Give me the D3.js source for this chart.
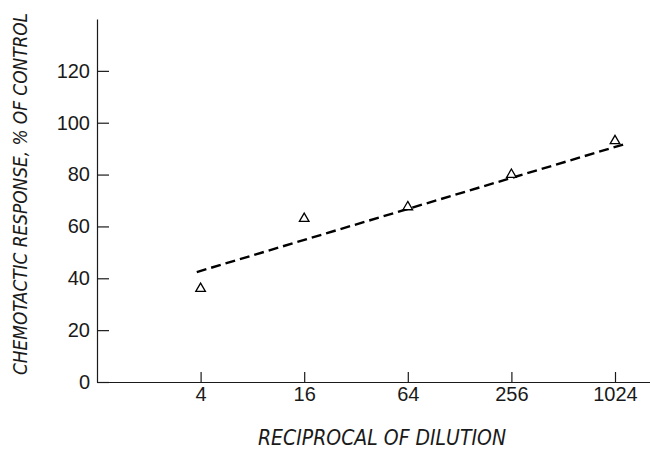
<!DOCTYPE html>
<html>
<head>
<meta charset="utf-8">
<script src="https://cdn.jsdelivr.net/npm/d3@7"></script>
<style>
  html, body { margin: 0; padding: 0; background: #fff; }
  svg { display: block; }
</style>
</head>
<body>
<svg id="chart" width="650" height="455"></svg>
<script>
// ---- data ----
const dilutions = [4, 16, 64, 256, 1024];
const responses = [36, 63, 67.5, 80, 93];
const fitX = [3.8, 1170];
const fitY = [42.4, 91.8];
const yTicks = [0, 20, 40, 60, 80, 100, 120];
const xTicks = [4, 16, 64, 256, 1024];
const xTitle = "RECIPROCAL OF DILUTION";
const yTitle = "CHEMOTACTIC RESPONSE, % OF CONTROL";

// ---- layout ----
const svg = d3.select("#chart");
const mLeft = 97, mBottom = 382, mTop = 18, mRight = 650;

const xBase = d3.scaleLog().base(4).domain([1, 1024]).range([mLeft, 615]);
const x = d3.scaleLog().base(4).domain([1, xBase.invert(mRight)]).range([mLeft, mRight]);
const y = d3.scaleLinear().domain([0, 140]).range([mBottom, mTop + 1]);

const ink = "#1a1a1a";

// x axis
const gx = svg.append("g").attr("transform", `translate(0,${mBottom})`)
  .call(d3.axisBottom(x).tickValues(xTicks).tickFormat(d3.format("d"))
        .tickSize(-10).tickSizeOuter(0).tickPadding(5));
// y axis
const gy = svg.append("g").attr("transform", `translate(${mLeft},0)`)
  .call(d3.axisLeft(y).tickValues(yTicks).tickFormat(d3.format("d"))
        .tickSize(-12).tickSizeOuter(0).tickPadding(7));

[gx, gy].forEach(g => {
  g.attr("font-size", null).attr("font-family", null);
  g.select(".domain").attr("stroke", ink).attr("stroke-width", 1.2);
  g.selectAll(".tick line").attr("stroke", ink).attr("stroke-width", 1.2);
  g.selectAll(".tick text")
    .attr("fill", ink)
    .style("font-family", "'Liberation Sans', Arial, sans-serif")
    .style("font-size", "20px");
});

// dashed fit line
svg.append("path")
  .datum(fitX.map((d, i) => [d, fitY[i]]))
  .attr("fill", "none")
  .attr("stroke", "#000")
  .attr("stroke-width", 2.4)
  .attr("stroke-dasharray", "10,5")
  .attr("d", d3.line().x(d => x(d[0])).y(d => y(d[1])));

// triangle markers
const tri = d3.symbol().type(d3.symbolTriangle).size(40);
svg.append("g").selectAll("path")
  .data(dilutions.map((d, i) => [d, responses[i]]))
  .join("path")
  .attr("d", tri)
  .attr("transform", d => `translate(${x(d[0])},${y(d[1])})`)
  .attr("fill", "#fff")
  .attr("stroke", "#000")
  .attr("stroke-width", 1.3);

// titles
svg.append("text")
  .attr("x", 382).attr("y", 445)
  .attr("text-anchor", "middle")
  .attr("textLength", 248).attr("lengthAdjust", "spacingAndGlyphs")
  .style("font-family", "'Liberation Sans Narrow', 'DejaVu Sans Condensed', sans-serif")
  .style("font-style", "italic")
  .style("font-size", "21px")
  .attr("fill", ink)
  .text(xTitle);

svg.append("text")
  .attr("transform", "translate(27,194) rotate(-90)")
  .attr("text-anchor", "middle")
  .attr("textLength", 362).attr("lengthAdjust", "spacingAndGlyphs")
  .style("font-family", "'Liberation Sans Narrow', 'DejaVu Sans Condensed', sans-serif")
  .style("font-style", "italic")
  .style("font-size", "20px")
  .attr("fill", ink)
  .text(yTitle);
</script>
</body>
</html>
